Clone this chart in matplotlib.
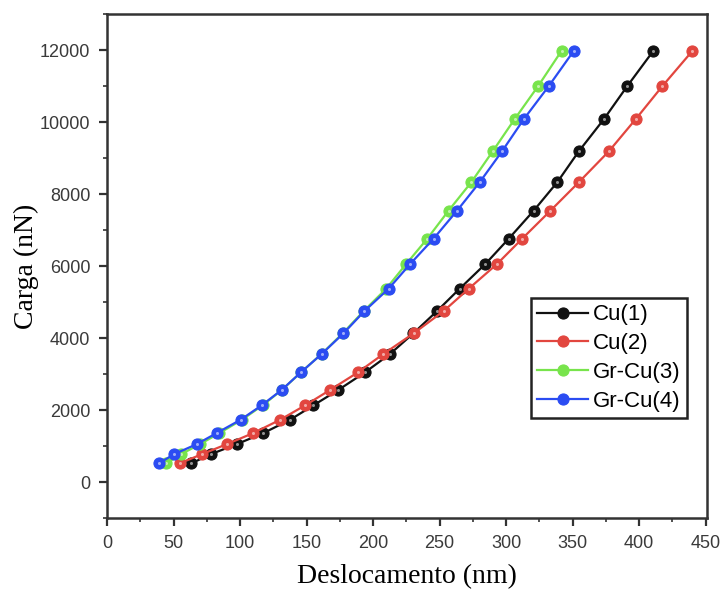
import numpy as np
import matplotlib
matplotlib.use("Agg")
import matplotlib.pyplot as plt
from matplotlib.ticker import MultipleLocator

# -------------------------------
# Data
# -------------------------------
carga = [520, 770, 1050, 1360, 1730, 2130, 2560, 3050, 3560, 4130,
         4750, 5370, 6060, 6760, 7540, 8330, 9190, 10080, 11000, 11980]

cu1 = [63.5, 77.8, 97.4, 117.5, 137.6, 155.1, 173.9, 194.0, 212.8, 230.2,
       248.0, 265.0, 284.4, 301.9, 320.7, 338.4, 354.6, 373.4, 391.0, 410.6]
cu2 = [54.7, 71.1, 89.9, 109.9, 130.1, 148.9, 167.7, 188.7, 207.8, 230.4,
       253.0, 271.8, 293.2, 312.0, 333.3, 354.6, 377.2, 397.3, 417.4, 440.0]
grcu3 = [44.7, 55.5, 69.8, 84.5, 101.4, 116.9, 131.5, 145.8, 161.3, 177.1,
         192.9, 209.8, 224.9, 240.7, 256.7, 273.8, 289.9, 306.3, 324.0, 341.6]
grcu4 = [39.2, 50.2, 67.3, 82.4, 100.4, 116.2, 131.3, 145.8, 161.4, 177.7,
         193.5, 211.6, 227.9, 245.4, 263.1, 280.1, 296.9, 313.2, 332.0, 350.8]

series = [
    ("Cu(1)", cu1, "#111111"),
    ("Cu(2)", cu2, "#e2463f"),
    ("Gr-Cu(3)", grcu3, "#78e44c"),
    ("Gr-Cu(4)", grcu4, "#2b4cf2"),
]

# -------------------------------
# Plot
# -------------------------------
fig = plt.figure(figsize=(7.23, 5.89), dpi=100)
ax = fig.add_axes([0.148, 0.1205, 0.830, 0.8555])

for name, xs, col in series:
    ax.plot(xs, carga, "-o", color=col, lw=1.6, ms=8, mec=col, mew=0.8,
            label=name)
    # small highlight on the balls
    ax.plot(xs, carga, "o", color="white", ms=2.2, alpha=0.55, mew=0)

ax.set_xlim(0, 451)
ax.set_ylim(-1000, 13000)
ax.xaxis.set_major_locator(MultipleLocator(50))
ax.xaxis.set_minor_locator(MultipleLocator(25))
ax.yaxis.set_major_locator(MultipleLocator(2000))
ax.yaxis.set_minor_locator(MultipleLocator(1000))

for lab in ax.get_xticklabels() + ax.get_yticklabels():
    lab.set_fontfamily("Liberation Sans")
    lab.set_fontsize(13)
    lab.set_color("#3a3a3a")

ax.tick_params(which="major", direction="out", length=6, width=1.6,
               color="#333333", pad=6)
ax.tick_params(which="minor", direction="out", length=3, width=1.2,
               color="#333333")
for sp in ax.spines.values():
    sp.set_linewidth(1.8)
    sp.set_color("#333333")

ax.set_xlabel("Deslocamento (nm)", family="Liberation Serif", fontsize=20,
              labelpad=9)
ax.set_ylabel("Carga (nN)", family="Liberation Serif", fontsize=20,
              labelpad=0.5)

leg = ax.legend(loc="upper left", bbox_to_anchor=(0.706, 0.437),
                prop={"family": "Liberation Sans", "size": 16},
                handlelength=2.3, handletextpad=0.2, borderpad=0.3,
                labelspacing=0.35, fancybox=False, framealpha=1,
                borderaxespad=0)
leg.get_frame().set_edgecolor("#222222")
leg.get_frame().set_linewidth(1.8)

fig.savefig("out.png", dpi=100)
